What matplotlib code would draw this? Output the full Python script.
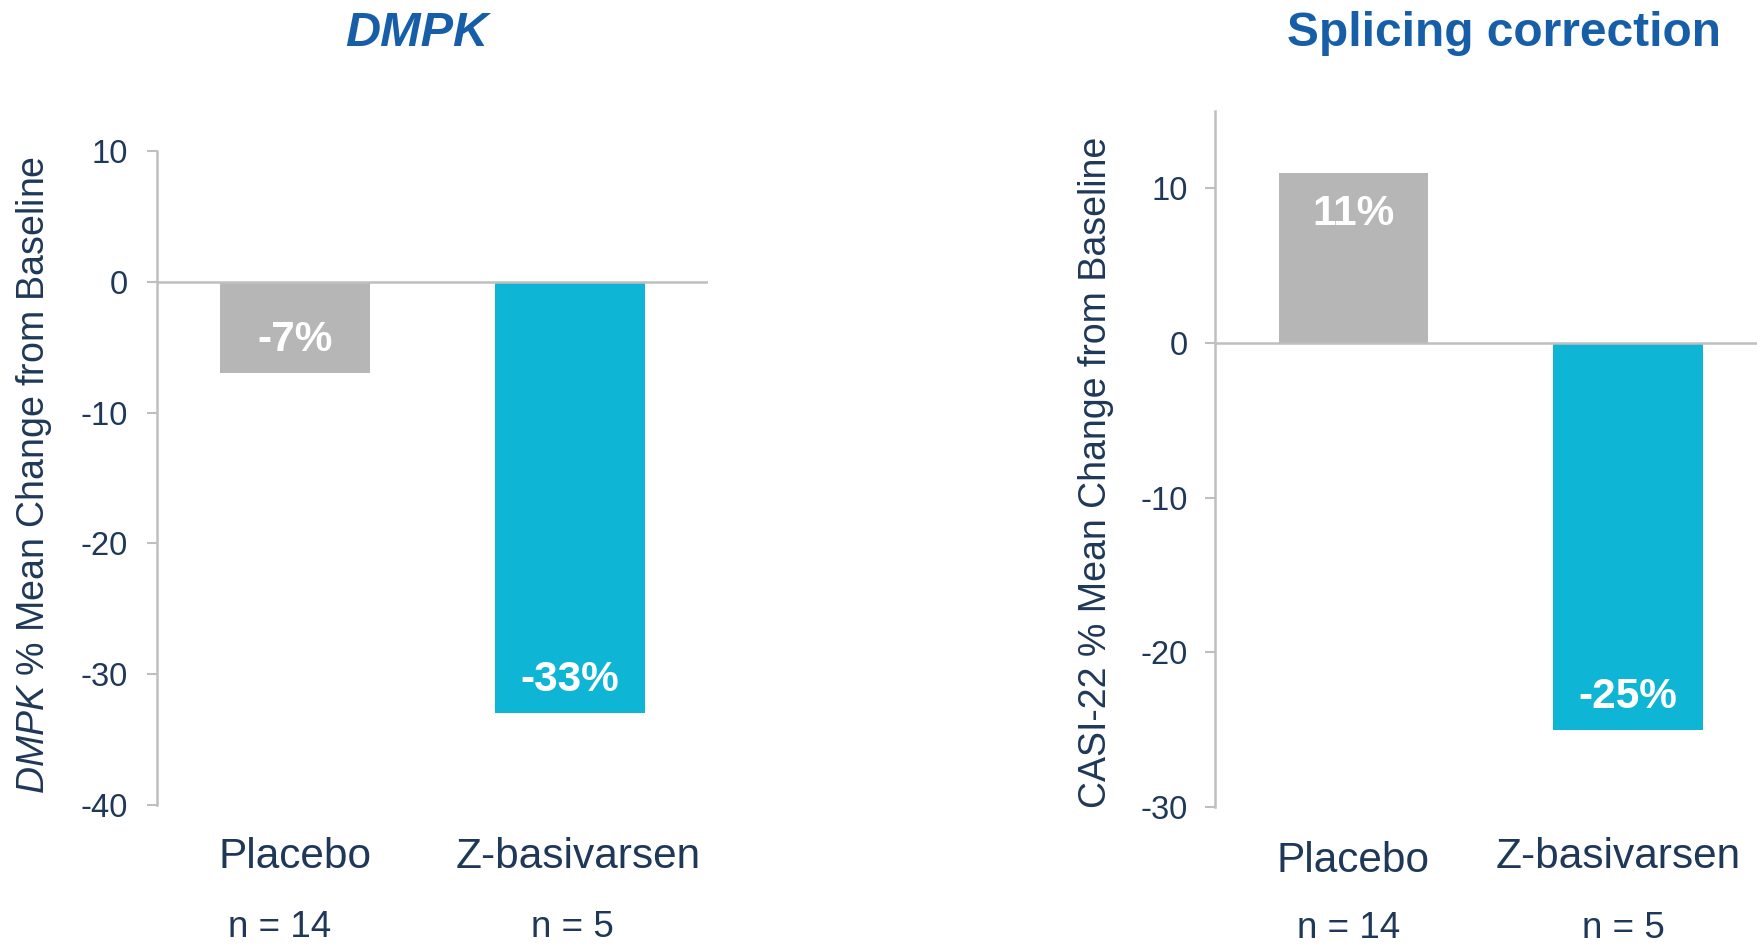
import matplotlib
matplotlib.use("Agg")
import matplotlib.pyplot as plt
from matplotlib.transforms import blended_transform_factory

# ---- data ----
categories = ["Placebo", "Z-basivarsen"]
n_labels = ["n = 14", "n = 5"]
dmpk_values = [-7, -33]
dmpk_labels = ["-7%", "-33%"]
splicing_values = [11, -25]
splicing_labels = ["11%", "-25%"]
dmpk_ticks = [10, 0, -10, -20, -30, -40]
splicing_ticks = [10, 0, -10, -20, -30]
bar_colors = ["#B5B6B5", "#0EB5D4"]

REG = "Liberation Sans"
plt.rcParams["font.family"] = [REG, "DejaVu Sans"]
plt.rcParams["mathtext.fontset"] = "custom"
plt.rcParams["mathtext.it"] = "Liberation Sans:italic"
plt.rcParams["mathtext.rm"] = "Liberation Sans"

NAVY = "#1F3858"
BLUE = "#165FA8"
AXC = "#BFBFBF"

fig = plt.figure(figsize=(17.57, 9.47), dpi=100)
W, H = 1757, 947


def axes_px(l, r, t, b):
    return fig.add_axes([l / W, 1 - b / H, (r - l) / W, (b - t) / H])


def draw(ax, values, labels, ticks, ylim, xlim, ylabel, title, title_style, title_size,
         title_x, ylabel_x, ylabel_y, cat_dx, cat_dy, n_dx, tick_pad):
    x = list(range(len(categories)))
    ax.bar(x, values, width=0.545, color=bar_colors, zorder=2)
    ax.set_xlim(*xlim)
    ax.set_ylim(*ylim)
    ax.axhline(0, color=AXC, lw=1.8, zorder=3)
    for s in ["top", "right", "bottom"]:
        ax.spines[s].set_visible(False)
    ax.spines["left"].set_color(AXC)
    ax.spines["left"].set_linewidth(1.8)
    ax.set_yticks(ticks)
    ax.set_yticklabels([str(t) for t in ticks], fontsize=23.5, color=NAVY)
    ax.tick_params(axis="y", length=7, width=1.5, color=AXC, pad=tick_pad)
    ax.set_xticks([])
    tr = blended_transform_factory(ax.transData, ax.transAxes)
    for xi, v, lab in zip(x, values, labels):
        off = -41 if v > 0 else 33
        ax.annotate(lab, (xi, v), xytext=(0, off), textcoords="offset pixels",
                    ha="center", va="center", fontweight="bold",
                    fontsize=30.5, color="white", zorder=4)
    for xi, c, dx, dy in zip(x, categories, cat_dx, cat_dy):
        ax.annotate(c, (xi, 0), xycoords=tr, xytext=(dx, -52 + dy),
                    textcoords="offset pixels", ha="center", va="center",
                    fontsize=30.5, color=NAVY)
    for xi, n, dx in zip(x, n_labels, n_dx):
        ax.annotate(n, (xi, 0), xycoords=tr, xytext=(dx, -122),
                    textcoords="offset pixels", ha="center", va="center",
                    fontsize=26.5, color=NAVY)
    fig.text(ylabel_x / W, 1 - ylabel_y / H, ylabel, rotation=90, ha="center", va="center",
             fontsize=27, color=NAVY)
    fig.text(title_x / W, 1 - 34 / H, title, ha="center", va="center",
             fontweight="bold", style=title_style, fontsize=title_size, color=BLUE)


ax1 = axes_px(157, 708, 151, 805)
draw(ax1, dmpk_values, dmpk_labels, dmpk_ticks, (-40, 10), (-0.5, 1.5),
     r"$\mathit{DMPK}$ % Mean Change from Baseline", "DMPK", "italic", 35,
     417, 34, 475, (0, 8), (0, 0), (-15, 2), 14)

ax2 = axes_px(1214.6, 1757, 111, 807)
draw(ax2, splicing_values, splicing_labels, splicing_ticks, (-30, 15), (-0.506, 1.47),
     "CASI-22 % Mean Change from Baseline", "Splicing correction", "normal", 34.5,
     1504, 1096, 472, (0, -10), (-2, 2), (-5, -5), 12)

fig.savefig("out.png", dpi=100, facecolor="white")
